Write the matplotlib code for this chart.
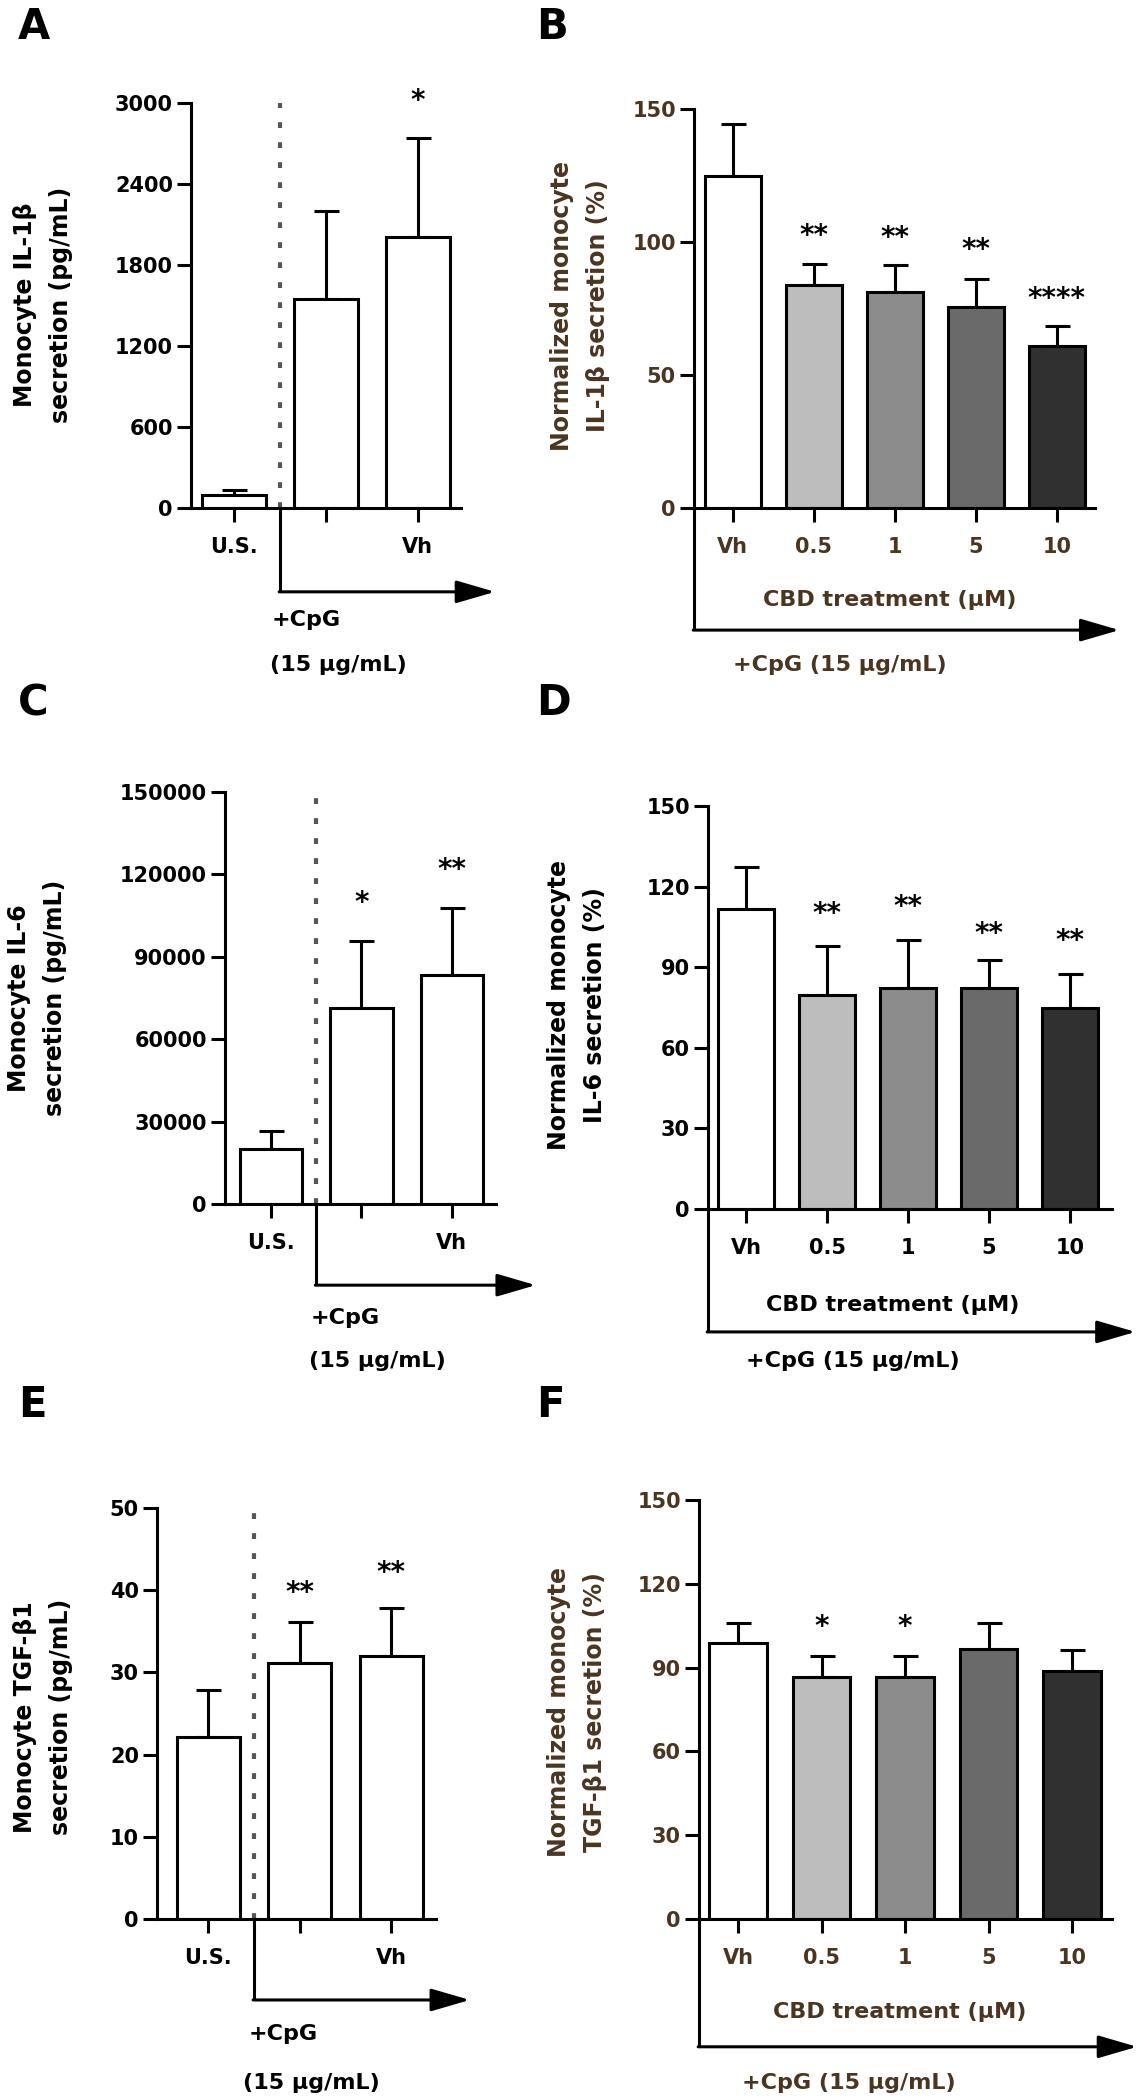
import numpy as np
import matplotlib
matplotlib.use('Agg')
import matplotlib.pyplot as plt
import matplotlib.transforms as mtransforms

plt.rcParams['font.family'] = ['DejaVu Sans']
plt.rcParams['font.weight'] = 'bold'

# ---- data ----
raw_groups = ['U.S.', '', 'Vh']
cbd_groups = ['Vh', '0.5', '1', '5', '10']
cbd_colors = ['white', '#bdbdbd', '#8c8c8c', '#6a6a6a', '#303030']

# A: IL-1beta raw (pg/mL)
il1b_raw = [95, 1550, 2010]
il1b_raw_err = [35, 650, 730]
il1b_raw_sig = ['', '', '*']
il1b_raw_sig_y = [0, 0, 3080]

# B: IL-1beta normalized (%)
il1b_norm = [124.8, 83.7, 81.1, 75.6, 61.0]
il1b_norm_err = [19.7, 8.0, 10.1, 10.6, 7.5]
il1b_norm_sig = ['', '**', '**', '**', '****']
il1b_norm_sig_y = [0, 105.5, 104.6, 100.4, 82]

# C: IL-6 raw (pg/mL)
il6_raw = [20000, 71200, 83400]
il6_raw_err = [6500, 24400, 24400]
il6_raw_sig = ['', '*', '**']
il6_raw_sig_y = [0, 112600, 124800]

# D: IL-6 normalized (%)
il6_norm = [111.8, 79.5, 82.3, 82.3, 74.8]
il6_norm_err = [15.4, 18.3, 17.8, 10.3, 12.5]
il6_norm_sig = ['', '**', '**', '**', '**']
il6_norm_sig_y = [0, 113, 115.6, 105.6, 103]

# E: TGF-beta1 raw (pg/mL)
tgf_raw = [22.2, 31.1, 32.0]
tgf_raw_err = [5.7, 5.0, 5.8]
tgf_raw_sig = ['', '**', '**']
tgf_raw_sig_y = [0, 40.7, 43.1]

# F: TGF-beta1 normalized (%)
tgf_norm = [98.8, 86.8, 86.8, 96.7, 88.9]
tgf_norm_err = [7.2, 7.2, 7.2, 9.3, 7.5]
tgf_norm_sig = ['', '*', '*', '', '']
tgf_norm_sig_y = [0, 107.6, 107.6, 0, 0]

W, H = 1141, 2100
LW = 2.2
BROWN = '#4a3520'

fig = plt.figure(figsize=(W / 100, H / 100), dpi=100)


def px_axes(x0, x1, ytop, ybot):
    return fig.add_axes([x0 / W, 1 - ybot / H, (x1 - x0) / W, (ybot - ytop) / H])


def base_axes(ax, means, errs, colors, sig, sig_y, ymax, yticks, ylabels, xlim, xlabels, tcolor):
    x = np.arange(len(means))
    ax.bar(x, means, width=0.69, color=colors, edgecolor='black', linewidth=LW, zorder=2)
    ax.errorbar(x, means, yerr=[np.zeros(len(errs)), errs], fmt='none', ecolor='black',
                elinewidth=LW, capsize=9, capthick=LW, zorder=1)
    for xi, s, sy in zip(x, sig, sig_y):
        if s:
            ax.annotate(s, (xi, sy), xytext=(0, -12), textcoords='offset points',
                        ha='center', va='baseline', fontsize=20, annotation_clip=False)
    ax.set_xlim(*xlim)
    ax.set_ylim(0, ymax)
    ax.set_yticks(yticks)
    ax.set_yticklabels(ylabels)
    ax.set_xticks(x)
    ax.set_xticklabels(xlabels)
    for sp in ['top', 'right']:
        ax.spines[sp].set_visible(False)
    for sp in ['left', 'bottom']:
        ax.spines[sp].set_linewidth(LW)
    ax.tick_params(axis='y', direction='out', length=10, width=LW, labelsize=15, pad=3,
                   labelcolor=tcolor)
    ax.tick_params(axis='x', direction='out', length=10, width=LW, labelsize=15, pad=11,
                   labelcolor=tcolor)
    return x


def arrow(ax, x0, yb, tip):
    trans = mtransforms.blended_transform_factory(ax.transData, ax.transAxes)
    ax.plot([x0, x0], [0, yb], transform=trans, color='black', lw=LW, clip_on=False,
            solid_capstyle='butt')
    ax.annotate('', xy=(tip, yb), xytext=(x0 - 0.01, yb), xycoords=trans, textcoords=trans,
                arrowprops=dict(arrowstyle='-|>,head_length=1.2,head_width=0.35', lw=LW,
                                color='black', mutation_scale=20, shrinkA=0, shrinkB=0))
    return trans


def raw_panel(rect, means, errs, sig, sig_y, ymax, yticks, ylabels, xlim, lay):
    ax = px_axes(*rect)
    base_axes(ax, means, errs, ['white'] * 3, sig, sig_y, ymax, yticks, ylabels, xlim,
              raw_groups, 'black')
    ax.plot([0.5, 0.5], [0, ymax], color='#555555', lw=3, linestyle=(0, (1.4, 3.4)),
            zorder=1, clip_on=False)
    trans = arrow(ax, 0.5, lay['ay'], lay['tip'])
    ax.text(lay['c1'][0], lay['c1'][1], '+CpG', transform=trans, ha='left', va='center',
            fontsize=16)
    ax.text(lay['c2'][0], lay['c2'][1], '(15 µg/mL)', transform=trans, ha='left',
            va='center', fontsize=16)
    return ax


def norm_panel(rect, means, errs, sig, sig_y, yticks, xlim, lay, tcolor):
    ax = px_axes(*rect)
    base_axes(ax, means, errs, cbd_colors, sig, sig_y, yticks[-1], yticks,
              [str(t) for t in yticks], xlim, cbd_groups, tcolor)
    trans = arrow(ax, xlim[0], lay['ay'], lay['tip'])
    ax.text(lay['cbd'][0], lay['cbd'][1], 'CBD treatment (µM)', transform=trans,
            ha='center', va='center', fontsize=16, color=tcolor)
    ax.text(lay['cpg'][0], lay['cpg'][1], '+CpG (15 µg/mL)', transform=trans,
            ha='left', va='center', fontsize=16, color=tcolor)
    return ax


def ylab(xc, yc, text, color='black'):
    fig.text(xc / W, 1 - yc / H, text, rotation=90, ha='center', va='center',
             multialignment='center', fontsize=17, linespacing=1.6, color=color)


# A
raw_panel((191, 461, 103, 508), il1b_raw, il1b_raw_err, il1b_raw_sig, il1b_raw_sig_y,
          3000, [0, 600, 1200, 1800, 2400, 3000],
          ['0', '600', '1200', '1800', '2400', '3000'], (-0.47, 2.47),
          dict(ay=-0.207, tip=2.84, c1=(0.41, -0.277), c2=(0.39, -0.388)))
ylab(43, 305, 'Monocyte IL-1β\nsecretion (pg/mL)')

# B
norm_panel((694, 1095, 109, 508), il1b_norm, il1b_norm_err, il1b_norm_sig, il1b_norm_sig_y,
           [0, 50, 100, 150], (-0.48, 4.47),
           dict(ay=-0.306, tip=4.77, cbd=(1.94, -0.23), cpg=(0.0, -0.393)), BROWN)
ylab(580, 306, 'Normalized monocyte\nIL-1β secretion (%)', BROWN)

# C
raw_panel((225, 496, 792, 1204), il6_raw, il6_raw_err, il6_raw_sig, il6_raw_sig_y,
          150000, [0, 30000, 60000, 90000, 120000, 150000],
          ['0', '30000', '60000', '90000', '120000', '150000'], (-0.51, 2.49),
          dict(ay=-0.197, tip=2.93, c1=(0.44, -0.277), c2=(0.42, -0.381)))
ylab(37, 998, 'Monocyte IL-6\nsecretion (pg/mL)')

# D
norm_panel((708, 1112, 806, 1209), il6_norm, il6_norm_err, il6_norm_sig, il6_norm_sig_y,
           [0, 30, 60, 90, 120, 150], (-0.47, 4.52),
           dict(ay=-0.305, tip=4.81, cbd=(1.81, -0.238), cpg=(0.0, -0.377)), 'black')
ylab(577, 1005, 'Normalized monocyte\nIL-6 secretion (%)')

# E
raw_panel((157, 436, 1508, 1919), tgf_raw, tgf_raw_err, tgf_raw_sig, tgf_raw_sig_y,
          50, [0, 10, 20, 30, 40, 50], ['0', '10', '20', '30', '40', '50'], (-0.56, 2.49),
          dict(ay=-0.197, tip=2.86, c1=(0.44, -0.28), c2=(0.38, -0.40)))
ylab(43, 1717, 'Monocyte TGF-β1\nsecretion (pg/mL)')

# F
norm_panel((699, 1112, 1500, 1919), tgf_norm, tgf_norm_err, tgf_norm_sig, tgf_norm_sig_y,
           [0, 30, 60, 90, 120, 150], (-0.47, 4.48),
           dict(ay=-0.305, tip=4.78, cbd=(1.93, -0.222), cpg=(0.04, -0.391)), BROWN)
ylab(577, 1712, 'Normalized monocyte\nTGF-β1 secretion (%)', BROWN)

# panel letters
for letter, xp, yp in [('A', 18, 27), ('B', 536, 27), ('C', 18, 703), ('D', 536, 703),
                       ('E', 18, 1405), ('F', 536, 1405)]:
    fig.text(xp / W, 1 - yp / H, letter, fontsize=30, fontweight='bold', ha='left',
             va='center')

fig.savefig('out.png', dpi=100)
